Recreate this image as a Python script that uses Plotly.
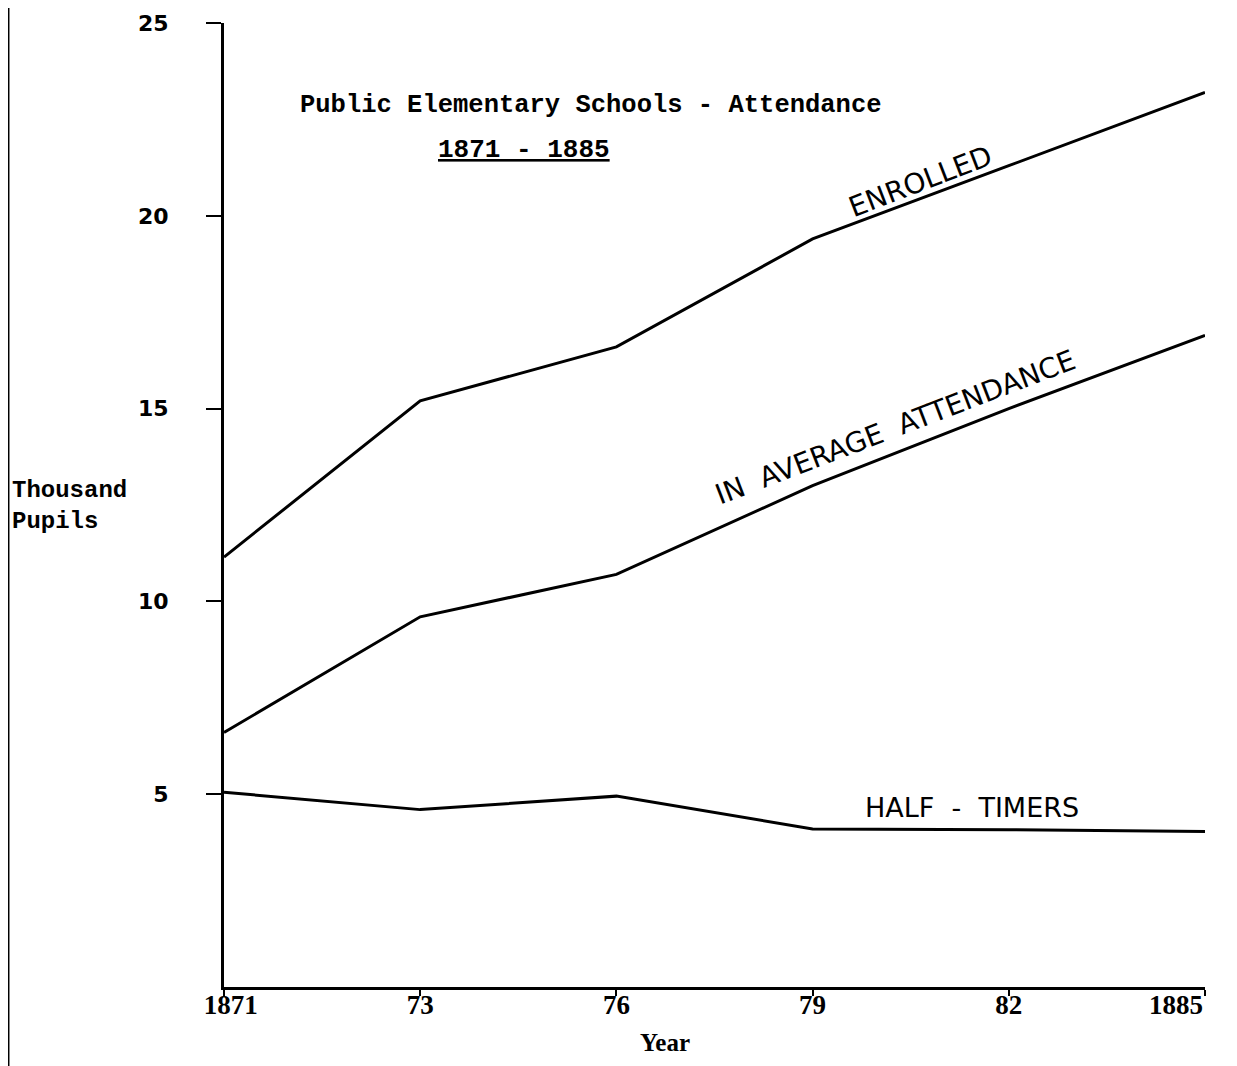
import plotly.graph_objects as go

# ---- data (thousand pupils) ----
years = ["1871", "73", "76", "79", "82", "1885"]
year_labels = ["&nbsp;&nbsp;1871", "73", "76", "79", "82", ""]
last_year_label = "1885"
enrolled = [11.15, 15.2, 16.6, 19.4, 21.3, 23.2]
attendance = [6.6, 9.6, 10.7, 13.0, 15.0, 16.9]
half_timers = [5.05, 4.6, 4.95, 4.1, 4.08, 4.03]
y_ticks = [5, 10, 15, 20, 25]

fig = go.Figure()
for vals in (enrolled, attendance, half_timers):
    fig.add_trace(go.Scatter(x=years, y=vals, mode="lines",
                             line=dict(color="black", width=3),
                             showlegend=False, hoverinfo="skip"))

mono = "Courier New, Liberation Mono, monospace"
hand = "DejaVu Sans, sans-serif"
tick_font = dict(family="Liberation Serif", size=27, color="black", weight="bold")

fig.update_layout(
    width=1237, height=1066,
    margin=dict(l=216, r=40, t=15, b=87),
    paper_bgcolor="white", plot_bgcolor="white",
    xaxis=dict(type="category", range=[0, 5], showgrid=False, zeroline=False,
               automargin=False,
               showline=True, linecolor="black", linewidth=3,
               tickvals=years, ticktext=year_labels,
               ticks="outside", ticklen=6, tickwidth=2, tickcolor="black",
               ticklabelstandoff=-14,
               tickfont=tick_font),
    yaxis=dict(range=[0, 25], tickvals=y_ticks, showgrid=False, zeroline=False,
               automargin=False,
               showline=True, linecolor="black", linewidth=3,
               ticks="outside", ticklen=15, tickwidth=2, tickcolor="black",
               ticklabelstandoff=33,
               tickfont=dict(family="DejaVu Sans", size=22, color="black", weight="bold")),
)

annos = [
    dict(x=1.87, y=22.85, text="<b>Public Elementary Schools - Attendance</b>",
         font=dict(family=mono, size=25.5, color="black")),
    dict(x=1.53, y=21.7, text="<b><u>1871 - 1885</u></b>",
         font=dict(family=mono, size=26, color="black")),
    dict(x=3.55, y=20.9, text="ENROLLED", textangle=-21,
         font=dict(family=hand, size=28, color="black")),
    dict(x=3.42, y=14.5, text="IN&nbsp; AVERAGE&nbsp; ATTENDANCE", textangle=-21,
         font=dict(family=hand, size=28, color="black")),
    dict(x=3.81, y=4.66, text="HALF&nbsp;&nbsp;-&nbsp;&nbsp;TIMERS",
         font=dict(family=hand, size=27, color="black")),
]
for a in annos:
    fig.add_annotation(xref="x", yref="y", showarrow=False, **a)

# last x tick label sits left of its tick, as in the original
fig.add_annotation(xref="x", yref="paper", x=4.85, y=-0.0187, yanchor="middle",
                   showarrow=False, text=last_year_label, font=tick_font)

fig.add_annotation(xref="paper", yref="paper", x=-0.218, y=0.499, xanchor="left",
                   yanchor="middle", showarrow=False, align="left",
                   text="<b>Thousand<br>Pupils</b>",
                   font=dict(family=mono, size=24, color="black"))

fig.add_annotation(xref="paper", yref="paper", x=0.4495, y=-0.058, yanchor="middle",
                   showarrow=False, text="<b>Year</b>",
                   font=dict(family="Liberation Serif", size=25, color="black"))

fig.add_shape(type="line", xref="paper", yref="paper", x0=-0.2197, x1=-0.2197, y0=-0.09, y1=1.02,
              line=dict(color="black", width=2))

fig.write_html("out.html")
